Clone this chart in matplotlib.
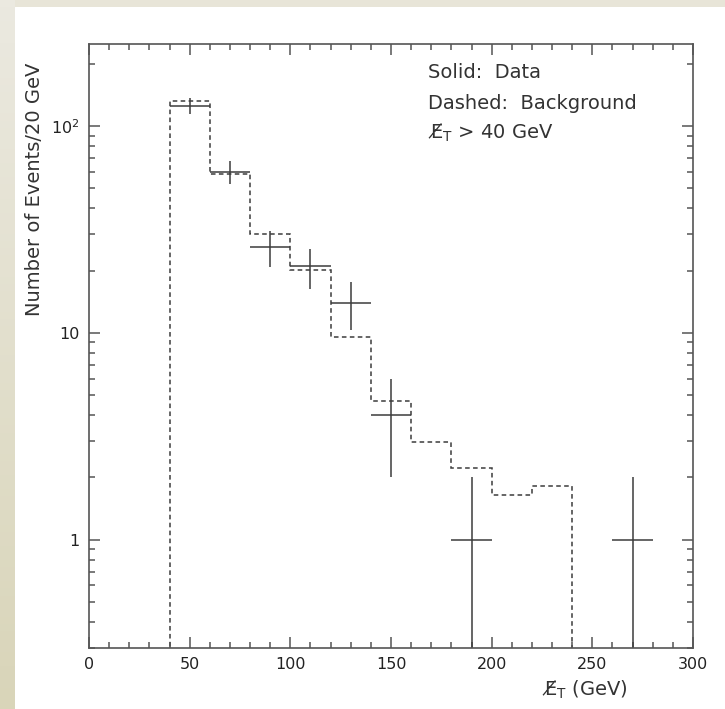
import numpy as np
import matplotlib
matplotlib.use('Agg')
import matplotlib.pyplot as plt
from matplotlib.ticker import FixedLocator, FixedFormatter, LogLocator, NullFormatter

# data points (solid crosses): bin centres, counts, errors
data_x = [50, 70, 90, 110, 130, 150, 190, 270]
data_n = [126, 60, 26, 21, 14, 4, 1, 1]
data_err = [11.2, 7.7, 5.1, 4.6, 3.7, 2.0, 1.0, 1.0]
half_bin = 10

# background histogram (dashed)
bkg_edges = [40, 60, 80, 100, 120, 140, 160, 180, 200, 220, 240]
bkg_n = [132, 59, 30, 20.2, 9.6, 4.7, 2.96, 2.21, 1.65, 1.82]

ytick_vals = [1, 10, 100]
ytick_labels = ['1', '10', r'$10^2$']
xtick_vals = [0, 50, 100, 150, 200, 250, 300]

# missing E_T: E with a combining long solidus, subscript T
met = 'E\u0338$_{\\mathrm{T}}$'

plt.rcParams['font.family'] = 'DejaVu Sans'
plt.rcParams['mathtext.default'] = 'regular'
plt.rcParams['mathtext.fontset'] = 'dejavusans'

W, H = 725, 709
fig = plt.figure(figsize=(W / 100, H / 100), dpi=100, facecolor='#e8e5d8')

# left strip with a soft gradient
gax = fig.add_axes([0, 0, 15 / W, 1])
grad = np.linspace(0, 1, 100).reshape(-1, 1)
gax.imshow(grad, aspect='auto', cmap=matplotlib.colors.LinearSegmentedColormap.from_list(
    'bg', ['#d9d5b9', '#ebe9e0']), origin='lower', extent=[0, 1, 0, 1])
gax.axis('off')
# white page behind the plot
pax = fig.add_axes([15 / W, 0, 1 - 15 / W, 1 - 7 / H])
pax.set_facecolor('white')
pax.axis('off')
pax.add_patch(plt.Rectangle((0, 0), 1, 1, transform=pax.transAxes, color='white'))

ax = fig.add_axes([89 / W, 1 - 647.7 / H, 604 / W, 603.7 / H])
ax.set_facecolor('white')

lc = '#3c3c3c'
ax.stairs(bkg_n, bkg_edges, baseline=1e-3, color=lc, lw=1.1, ls=(0, (3, 2.2)))
ax.errorbar(data_x, data_n, xerr=half_bin, yerr=data_err, fmt='none',
            ecolor=lc, elinewidth=1.1, capsize=0)

ax.set_yscale('log')
ax.set_xlim(0, 300)
ax.set_ylim(0.3, 250)

ax.yaxis.set_major_locator(FixedLocator(ytick_vals))
ax.yaxis.set_major_formatter(FixedFormatter(ytick_labels))
ax.yaxis.set_minor_locator(LogLocator(base=10, subs=np.arange(2, 10)))
ax.yaxis.set_minor_formatter(NullFormatter())
ax.xaxis.set_major_locator(FixedLocator(xtick_vals))
ax.xaxis.set_minor_locator(FixedLocator(np.arange(0, 301, 10)))

sc = '#555555'
for s in ax.spines.values():
    s.set_color(sc)
    s.set_linewidth(1.2)
ax.tick_params(which='both', direction='in', top=True, right=True, color=sc, width=1.1)
ax.tick_params(which='major', length=8, labelsize=11.5, labelcolor='#222222', pad=7)
ax.tick_params(which='minor', length=4)

tc = '#333333'
ax.text(0.5606, 0.952, 'Solid:  Data', transform=ax.transAxes, fontsize=14,
        color=tc, va='center', ha='left')
ax.text(0.5606, 0.901, 'Dashed:  Background', transform=ax.transAxes, fontsize=14,
        color=tc, va='center', ha='left')
ax.text(0.5606, 0.852, met + ' > 40 GeV', transform=ax.transAxes, fontsize=14,
        color=tc, va='center', ha='left')

fig.text(585 / W, 1 - 690 / H, met + ' (GeV)', fontsize=14, color=tc,
         ha='center', va='center')
fig.text(35 / W, 1 - 189 / H, 'Number of Events/20 GeV', fontsize=14, color=tc,
         rotation=90, ha='center', va='center')

fig.savefig('out.png', dpi=100, facecolor=fig.get_facecolor())
